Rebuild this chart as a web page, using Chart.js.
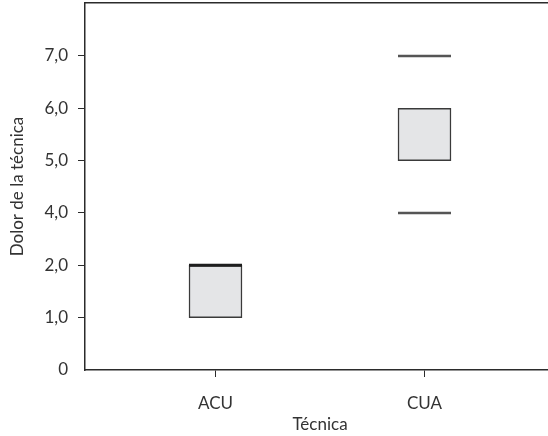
<!DOCTYPE html>
<html>
<head>
<meta charset="utf-8">
<script src="https://cdn.jsdelivr.net/npm/chart.js@4"></script>
<style>
  html, body { margin: 0; padding: 0; background: #fff; overflow: hidden; }
  #wrap { width: 548px; height: 436px; overflow: hidden; }
</style>
</head>
<body>
<div id="wrap"><canvas id="boxChart" width="555" height="436"></canvas></div>
<script>
// ------------------- Data -------------------
const categories = ["ACU", "CUA"];
const xPositions = [1, 2];
const minVals = [1, 4];
const q1Vals = [1, 5];
const medianVals = [2, null];
const q3Vals = [2, 6];
const maxVals = [2, 7];

const yTickValues = [0, 1, 2, 4, 5, 6, 7];
const yTickLabels = ["0", "1,0", "2,0", "4,0", "5,0", "6,0", "7,0"];

// the axis skips 3,0: the 2 -> 4 step takes one unit of height
function axisPos(v) {
  return v > 2 ? v - 1 : v;
}

const textColor = "#333";
const lineColor = "#2b2b2b";
const font = { family: "Lato", size: 17 };

// ------------------- Build datasets -------------------
const boxes = categories.map((c, i) => ({ x: xPositions[i], y: [axisPos(q1Vals[i]), axisPos(q3Vals[i])] }));

let whiskers = [];
categories.forEach((c, i) => {
  if (minVals[i] < q1Vals[i]) whiskers.push({ x: xPositions[i], y: axisPos(minVals[i]) });
  if (maxVals[i] > q3Vals[i]) whiskers.push({ x: xPositions[i], y: axisPos(maxVals[i]) });
});

let medians = [];
categories.forEach((c, i) => {
  if (medianVals[i] !== null) medians.push({ x: xPositions[i], y: axisPos(medianVals[i]) });
});

// no extra room for labels that hang over the axis ends
function noPad(s) {
  s.paddingTop = 0;
  s.paddingBottom = 0;
  s.paddingLeft = 0;
  s.paddingRight = 0;
}

const ctx = document.getElementById("boxChart").getContext("2d");
new Chart(ctx, {
  type: "bar",
  data: {
    datasets: [
      {
        type: "line",
        data: whiskers,
        showLine: false,
        pointStyle: "line",
        pointRadius: 26.5,
        pointBorderWidth: 2.5,
        pointBorderColor: "#555",
        pointBackgroundColor: "#555"
      },
      {
        type: "line",
        data: medians,
        showLine: false,
        pointStyle: "line",
        pointRadius: 26.5,
        pointBorderWidth: 3,
        pointBorderColor: "#1e1e1e",
        order: -1
      },
      {
        type: "bar",
        data: boxes,
        backgroundColor: "#e4e5e7",
        borderColor: "#3a3a3a",
        borderWidth: 1.5,
        borderSkipped: false,
        barThickness: 53
      }
    ]
  },
  options: {
    responsive: false,
    animation: false,
    layout: { padding: 0, autoPadding: false },
    plugins: {
      legend: { display: false },
      tooltip: { enabled: false }
    },
    scales: {
      x: {
        type: "linear",
        position: "bottom",
        min: 0.3756,
        max: 2.6244,
        offset: false,
        afterBuildTicks: s => { s.ticks = xPositions.map(v => ({ value: v })); },
        afterFit: s => { s.height = 66; noPad(s); },
        grid: { offset: false, drawOnChartArea: false, tickLength: 7, color: lineColor, lineWidth: 1 },
        border: { color: lineColor, width: 1.5 },
        ticks: {
          color: textColor,
          font: font,
          padding: 16,
          callback: v => categories[xPositions.indexOf(v)]
        },
        title: { display: true, text: "Técnica", color: textColor, font: font, padding: { top: 0, bottom: 1 } }
      },
      xTop: {
        type: "linear",
        position: "top",
        min: 0,
        max: 1,
        afterFit: s => { s.height = 3; noPad(s); },
        grid: { drawOnChartArea: false, drawTicks: false },
        border: { color: lineColor, width: 1.5 },
        ticks: { display: false }
      },
      y: {
        type: "linear",
        min: 0,
        max: 7.01,
        afterBuildTicks: s => { s.ticks = yTickValues.map(v => ({ value: axisPos(v) })); },
        afterFit: s => { s.width = 85; noPad(s); },
        grid: {
          drawOnChartArea: false,
          tickLength: 7,
          lineWidth: 1,
          color: c => (c.tick && c.tick.value === 0 ? "rgba(0,0,0,0)" : lineColor)
        },
        border: { color: lineColor, width: 1.5 },
        ticks: {
          color: textColor,
          font: font,
          padding: 10,
          callback: (v, i) => yTickLabels[i]
        },
        title: { display: true, text: "Dolor de la técnica", color: textColor, font: font, padding: { top: 7, bottom: 0 } }
      }
    }
  }
});
</script>
</body>
</html>
